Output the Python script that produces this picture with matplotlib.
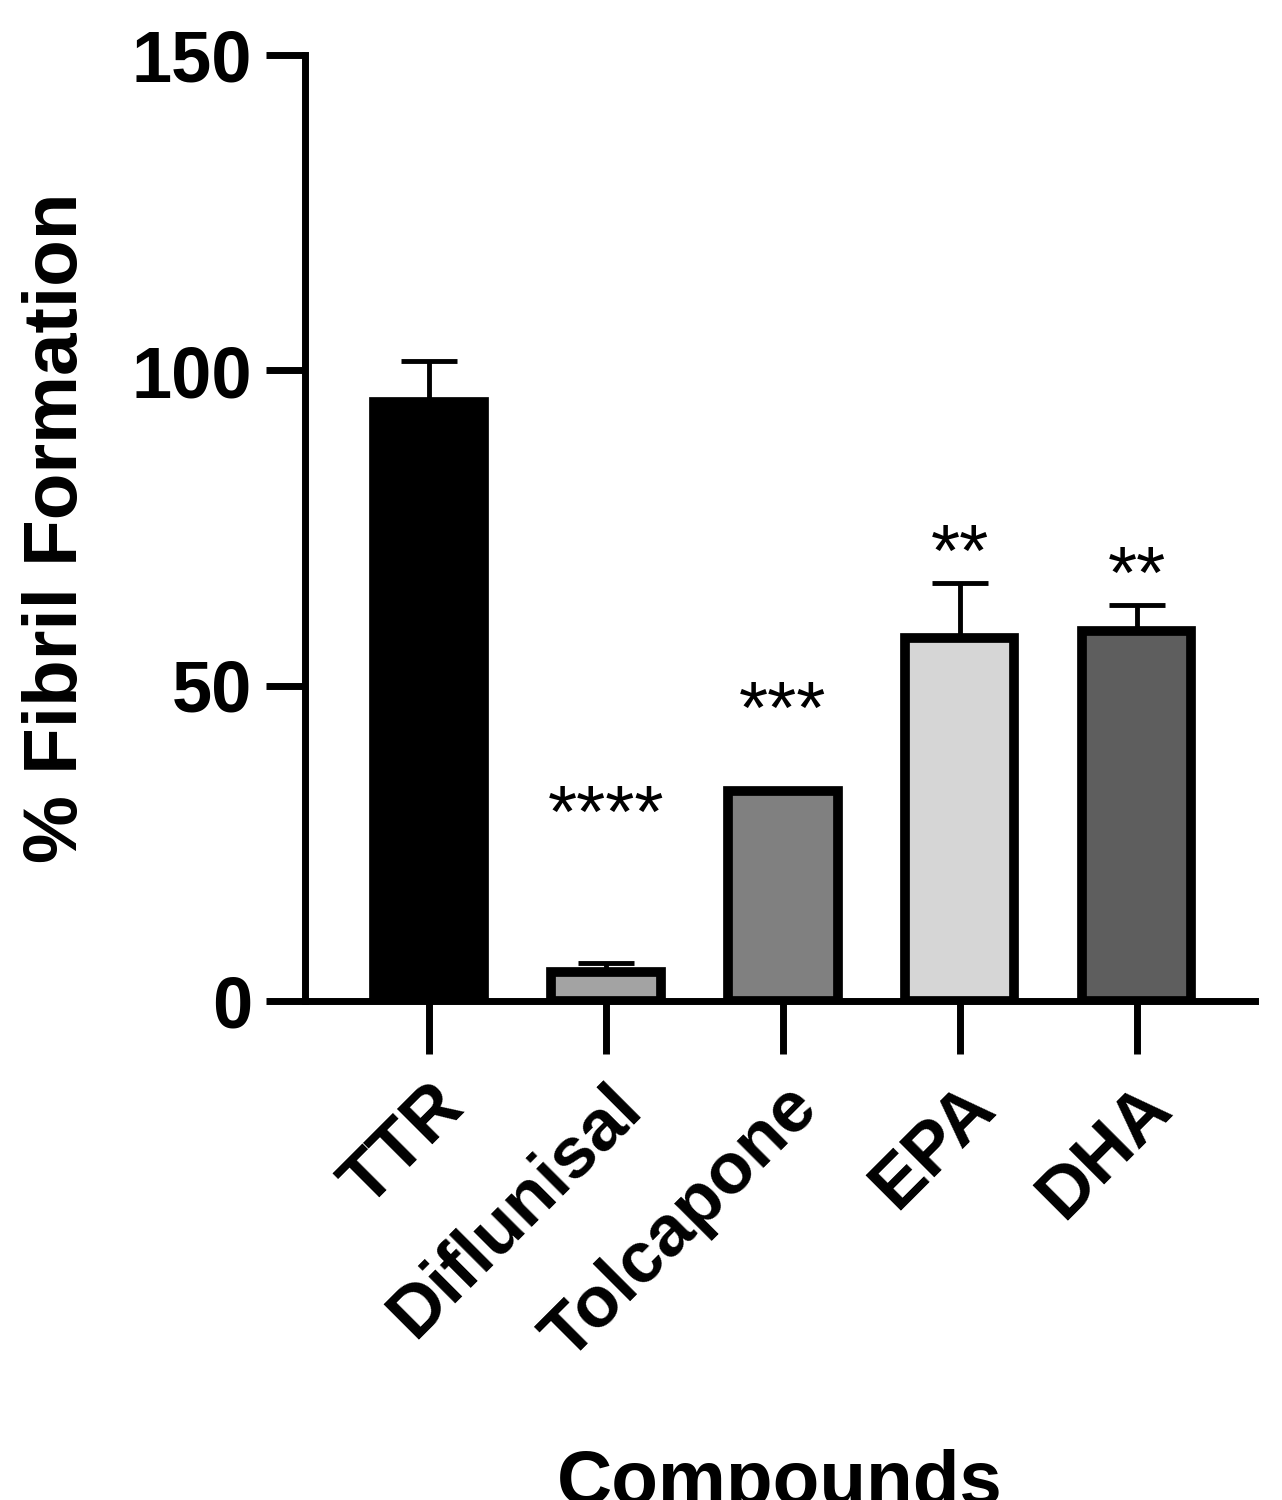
import matplotlib
matplotlib.use("Agg")
import matplotlib.pyplot as plt

# data
compounds = ["TTR", "Diflunisal", "Tolcapone", "EPA", "DHA"]
means = [95.0, 4.6, 33.3, 57.5, 58.7]
errors = [6.5, 1.3, 0.0, 8.7, 4.0]
stars = ["", "****", "***", "**", "**"]
star_y = [None, 29, 45.5, 70.5, 67]
colors = ["#000000", "#a3a3a3", "#808080", "#d6d6d6", "#5e5e5e"]

plt.rcParams['font.family'] = ['Liberation Sans', 'DejaVu Sans']
plt.rcParams['font.weight'] = 'bold'

fig = plt.figure(figsize=(12.82, 15), dpi=100)
ax = fig.add_axes([0.238, 0.333, 0.741, 0.63])

x = list(range(len(compounds)))
ax.bar(x, means, width=0.62, color=colors, edgecolor="black", linewidth=7, zorder=2)
for xi, m, e in zip(x, means, errors):
    if e > 0:
        ax.errorbar(xi, m, yerr=[[0], [e]], fmt="none", ecolor="black",
                    elinewidth=3.5, capsize=20, capthick=3.5, zorder=1)
for xi, s, sy in zip(x, stars, star_y):
    if s:
        ax.text(xi, sy, s, ha="center", va="center", fontsize=54, fontweight="normal")

ax.set_ylim(0, 150)
ax.set_xlim(-0.7, 4.67)
ax.set_yticks([0, 50, 100, 150])
ax.set_xticks(x)
ax.set_xticklabels(compounds, rotation=45, ha="right", rotation_mode="anchor")
ax.tick_params(axis="both", width=5, length=28, labelsize=52, pad=10)
ax.tick_params(axis="x", length=38, pad=14)
for lab in ax.get_xticklabels() + ax.get_yticklabels():
    lab.set_fontweight("bold")
for sp in ["top", "right"]:
    ax.spines[sp].set_visible(False)
for sp in ["left", "bottom"]:
    ax.spines[sp].set_linewidth(5)
ax.set_ylabel("% Fibril Formation", fontsize=55, fontweight="bold", labelpad=28)
ax.set_xlabel("Compounds", fontsize=55, fontweight="bold", labelpad=55)

fig.savefig("out.png", dpi=100)
